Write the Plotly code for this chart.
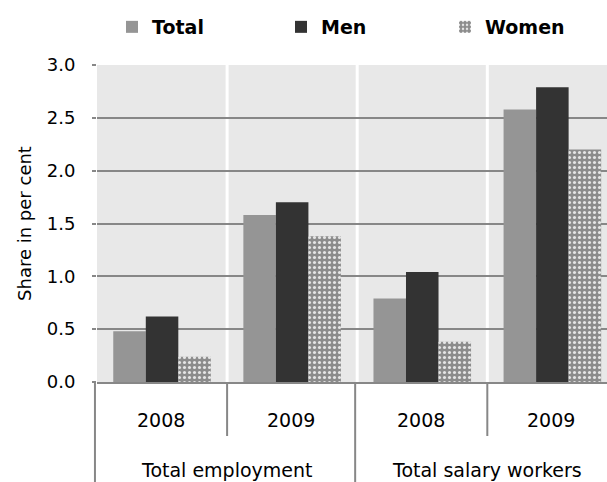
import plotly.graph_objects as go

groups = ["Total employment", "Total employment", "Total salary workers", "Total salary workers"]
years = ["2008", "2009", "2008", "2009"]
total = [0.48, 1.58, 0.79, 2.58]
men = [0.62, 1.70, 1.04, 2.79]
women = [0.24, 1.38, 0.38, 2.20]
y_ticks = [0.0, 0.5, 1.0, 1.5, 2.0, 2.5, 3.0]

FONT = "DejaVu Sans"
GRAY = "#878787"
W, H = 607, 482
x = [groups, years]

fig = go.Figure()
fig.add_trace(go.Bar(name="Total", x=x, y=total, legend="legend",
                     marker=dict(color="#959595", line=dict(width=0))))
fig.add_trace(go.Bar(name="Men", x=x, y=men, legend="legend2",
                     marker=dict(color="#333333", line=dict(width=0))))
fig.add_trace(go.Bar(name="Women", x=x, y=women, legend="legend3",
                     marker=dict(color="#8c8c8c", line=dict(width=0),
                                 pattern=dict(shape=".", bgcolor="#8c8c8c", fgcolor="#e6e6e6",
                                              size=5, solidity=0.3, fillmode="replace"))))

xmin, xmax = -0.5, 3.42
PLOT_H = 317
BOTTOM = 100


def fx(v):
    return (v - xmin) / (xmax - xmin)


def py(px_below_axis):
    return -px_below_axis / PLOT_H


shapes = []
for b in [0.5, 1.5, 2.5]:
    shapes.append(dict(type="line", xref="paper", yref="y", x0=fx(b), x1=fx(b), y0=0, y1=3,
                       line=dict(color="white", width=3), layer="between"))
for b in [0.5, 2.5]:
    shapes.append(dict(type="line", xref="paper", yref="paper", x0=fx(b), x1=fx(b),
                       y0=0, y1=py(54), line=dict(color=GRAY, width=2)))
for b in [-0.5, 1.5]:
    shapes.append(dict(type="line", xref="paper", yref="paper", x0=fx(b) - 0.004, x1=fx(b) - 0.004,
                       y0=0, y1=py(102), line=dict(color=GRAY, width=2)))

annotations = []
for i, yr in enumerate(years):
    annotations.append(dict(text=yr, xref="paper", yref="paper", x=fx(i) - 0.003, y=py(38),
                            showarrow=False, xanchor="center", yanchor="middle",
                            font=dict(family=FONT, size=19, color="black")))
seen = []
for g in groups:
    if g in seen:
        continue
    seen.append(g)
    idx = [i for i, gg in enumerate(groups) if gg == g]
    c = (idx[0] + idx[-1]) / 2
    annotations.append(dict(text=g, xref="paper", yref="paper", x=fx(c), y=py(88),
                            showarrow=False, xanchor="center", yanchor="middle",
                            font=dict(family=FONT, size=19, color="black")))


def leg(xpx):
    return dict(orientation="h", xref="container", yref="container",
                x=xpx / W, xanchor="left", y=1 - 27 / H, yanchor="middle",
                font=dict(family=FONT, size=19, color="black", weight="bold"),
                bgcolor="rgba(0,0,0,0)", borderwidth=0)


fig.update_layout(
    width=W, height=H, showlegend=True,
    margin=dict(l=97, r=0, t=65, b=BOTTOM, autoexpand=False),
    paper_bgcolor="white", plot_bgcolor="#e8e8e8",
    barmode="group", bargap=0.25, bargroupgap=0,
    font=dict(family=FONT, size=17, color="black"),
    shapes=shapes, annotations=annotations,
    legend=leg(112), legend2=leg(281), legend3=leg(445),
    xaxis=dict(type="multicategory", range=[xmin, xmax], showgrid=False,
               showline=True, linecolor=GRAY, linewidth=2,
               ticks="", showticklabels=False, showdividers=False, automargin=False),
    yaxis=dict(range=[0, 3], tickvals=y_ticks, tickformat=".1f",
               showgrid=True, gridcolor=GRAY, gridwidth=2,
               zeroline=False, showline=False, automargin=False,
               ticks="outside", ticklen=4, tickcolor=GRAY, tickwidth=2,
               ticklabelstandoff=13,
               tickfont=dict(family=FONT, size=18),
               title=dict(text="Share in per cent", font=dict(family=FONT, size=18), standoff=10)),
)

fig.write_html("out.html", config={"displayModeBar": False},
               post_script="document.body.style.margin='0';document.body.style.overflow='hidden';")
